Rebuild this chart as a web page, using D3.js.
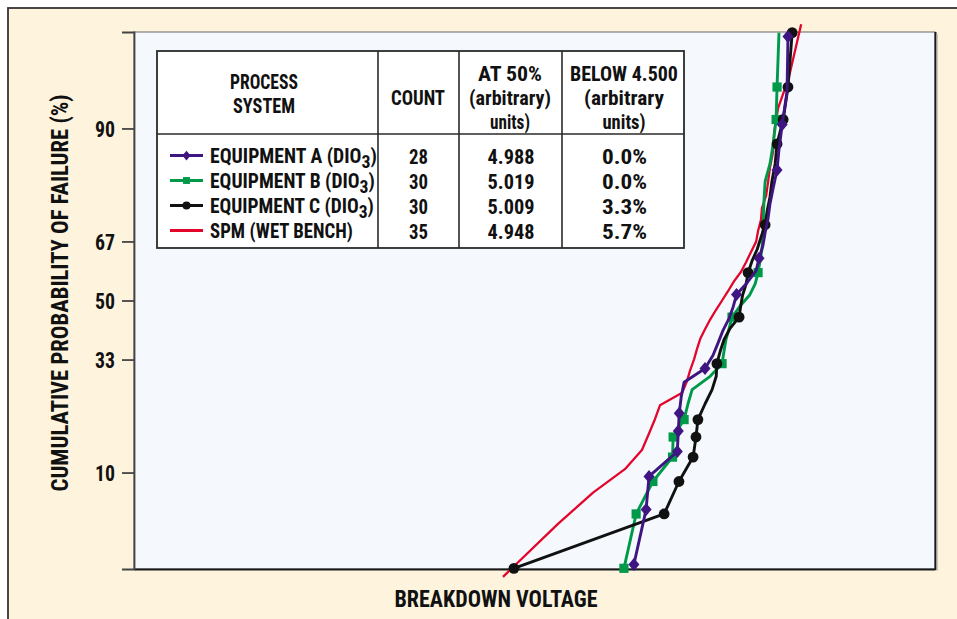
<!DOCTYPE html>
<html>
<head>
<meta charset="utf-8">
<script src="https://cdn.jsdelivr.net/npm/d3@7"></script>
<style>
  html, body { margin: 0; padding: 0; background: #fff; }
  svg text {
    font-family: "Liberation Sans Narrow", "Arial Narrow", "Roboto Condensed", "DejaVu Sans Condensed", "Liberation Sans", sans-serif;
    font-weight: bold;
    fill: #111;
  }
</style>
</head>
<body>
<svg id="chart" width="957" height="619"></svg>
<script>
// Breakdown voltages (arbitrary units), sorted ascending, one array per process system
const equipmentA = [4.674, 4.712, 4.721, 4.809, 4.812, 4.815, 4.821, 4.830, 4.895, 4.920,
  4.936, 4.951, 4.970, 4.983, 4.993, 5.026, 5.054, 5.063, 5.075, 5.082,
  5.091, 5.097, 5.107, 5.119, 5.125, 5.135, 5.150, 5.153];
const equipmentB = [4.643, 4.681, 4.733, 4.794, 4.796, 4.830, 4.842, 4.855, 4.911, 4.948,
  4.954, 4.960, 4.970, 4.979, 5.004, 5.034, 5.051, 5.060, 5.066, 5.072,
  5.075, 5.076, 5.077, 5.079, 5.082, 5.097, 5.107, 5.116, 5.119, 5.125];
const equipmentC = [4.301, 4.768, 4.814, 4.858, 4.867, 4.873, 4.895, 4.917, 4.930, 4.932,
  4.942, 4.954, 4.973, 5.001, 5.006, 5.012, 5.023, 5.029, 5.041, 5.057,
  5.069, 5.082, 5.088, 5.097, 5.103, 5.113, 5.119, 5.138, 5.153, 5.166];
const spmWetBench = [4.267, 4.438, 4.547, 4.646, 4.699, 4.721, 4.740, 4.755, 4.824, 4.839,
  4.849, 4.861, 4.870, 4.880, 4.895, 4.911, 4.929, 4.948, 4.967, 4.985,
  5.007, 5.023, 5.038, 5.054, 5.060, 5.069, 5.072, 5.085, 5.091, 5.097,
  5.107, 5.110, 5.122, 5.156, 5.194];

// Ranks (1-based) that carry a plot symbol
const markedA = [1, 2, 3, 4, 5, 6, 9, 15, 18, 24, 26, 28];
const markedB = [1, 2, 3, 4, 5, 6, 10, 14, 18, 28, 29];
const markedC = [1, 2, 3, 4, 5, 6, 10, 14, 18, 22, 27, 28, 29, 30];
const markedSPM = [];

// Probability axis ticks (%)
const probTicks = [10, 33, 50, 67, 90];

// Summary table
const systemNames = ["EQUIPMENT A", "EQUIPMENT B", "EQUIPMENT C", "SPM (WET BENCH)"];
const systemSuffix = [true, true, true, false];     // "(DIO3)" suffix
const at50 = ["4.988", "5.019", "5.009", "4.948"];
const below4500 = ["0.0%", "0.0%", "3.3%", "5.7%"];

const seriesData = [equipmentA, equipmentB, equipmentC, spmWetBench];
const seriesMarks = [markedA, markedB, markedC, markedSPM];
const seriesColor = ["#3f1681", "#00994a", "#111111", "#e2062c"];
const seriesSymbol = ["diamond", "square", "circle", "none"];
const seriesWidth = [2.9, 2.9, 2.9, 2.3];

// Inverse standard normal CDF (Acklam's rational approximation)
function probit(p) {
  const a = [-39.69683028665376, 220.9460984245205, -275.9285104469687, 138.3577518672690, -30.66479806614716, 2.506628277459239];
  const b = [-54.47609879822406, 161.5858368580409, -155.6989798598866, 66.80131188771972, -13.28068155288572];
  const c = [-0.007784894002430293, -0.3223964580411365, -2.400758277161838, -2.549732539343734, 4.374664141464968, 2.938163982698783];
  const d = [0.007784695709041462, 0.3224671290700398, 2.445134137142996, 3.754408661907416];
  const pl = 0.02425;
  if (p < pl) {
    const q = Math.sqrt(-2 * Math.log(p));
    return (((((c[0]*q+c[1])*q+c[2])*q+c[3])*q+c[4])*q+c[5]) / ((((d[0]*q+d[1])*q+d[2])*q+d[3])*q+1);
  }
  if (p > 1 - pl) {
    const q = Math.sqrt(-2 * Math.log(1 - p));
    return -(((((c[0]*q+c[1])*q+c[2])*q+c[3])*q+c[4])*q+c[5]) / ((((d[0]*q+d[1])*q+d[2])*q+d[3])*q+1);
  }
  const q = p - 0.5, r = q * q;
  return (((((a[0]*r+a[1])*r+a[2])*r+a[3])*r+a[4])*r+a[5])*q / (((((b[0]*r+b[1])*r+b[2])*r+b[3])*r+b[4])*r+1);
}

// Cumulative failure probability of the i-th (1-based) of n sorted values (Benard median rank)
const medianRank = (i, n) => (i - 0.3) / (n + 0.4);

const svg = d3.select("#chart");
const W = 957, H = 619;
const plot = { left: 134, right: 935, top: 32, bottom: 569 };

// x: breakdown voltage, y: normal quantile of cumulative probability
const x = d3.scaleLinear().domain([3.12, 5.61]).range([plot.left, plot.right]);
const z = d3.scaleLinear().domain([-2, 2]).range([plot.bottom, plot.top]);

function fit(sel, w) {
  return sel.attr("textLength", w).attr("lengthAdjust", "spacingAndGlyphs");
}

// Outer panel
svg.append("rect").attr("x", 8).attr("y", 8).attr("width", W + 10).attr("height", H + 10)
  .attr("fill", "#fef4de").attr("stroke", "#333").attr("stroke-width", 1.8);

// Plot area
svg.append("rect")
  .attr("x", plot.left).attr("y", plot.top)
  .attr("width", plot.right - plot.left).attr("height", plot.bottom - plot.top)
  .attr("fill", "#f5f9fd").attr("stroke", "#666").attr("stroke-width", 1);
svg.append("line").attr("x1", plot.right + 0.5).attr("x2", plot.right + 0.5)
  .attr("y1", plot.top).attr("y2", plot.bottom + 1)
  .attr("stroke", "#1a1a1a").attr("stroke-width", 2);
svg.append("line").attr("x1", plot.right + 2.2).attr("x2", plot.right + 2.2)
  .attr("y1", plot.top + 2).attr("y2", plot.bottom + 2)
  .attr("stroke", "#bbb").attr("stroke-width", 1.2);

// Bottom axis (no ticks, voltage in arbitrary units)
svg.append("g").attr("transform", `translate(0,${plot.bottom})`)
  .call(d3.axisBottom(x).tickValues([]).tickSizeOuter(0))
  .call(g => g.select(".domain").attr("stroke", "#1a1a1a").attr("stroke-width", 2));

// Left probability axis
const yAxis = d3.axisLeft(z)
  .tickValues(probTicks.map(p => probit(p / 100)))
  .tickFormat((d, i) => probTicks[i])
  .tickSizeInner(12).tickSizeOuter(12).tickPadding(7);
svg.append("g").attr("transform", `translate(${plot.left},0)`)
  .call(yAxis)
  .call(g => g.select(".domain").attr("stroke", "#444").attr("stroke-width", 1.8))
  .call(g => g.selectAll(".tick line").attr("stroke", "#444").attr("stroke-width", 1.8))
  .call(g => g.selectAll(".tick text")
    .attr("font-size", 22).attr("dy", "0.36em").attr("fill", "#111")
    .style("font-family", null))
  .call(g => g.selectAll(".tick text").each(function () { fit(d3.select(this), 20); }));

// Axis titles
fit(svg.append("text")
  .attr("transform", `translate(68,${293}) rotate(-90)`)
  .attr("text-anchor", "middle").attr("font-size", 24)
  .text("CUMULATIVE PROBABILITY OF FAILURE (%)"), 397);
fit(svg.append("text")
  .attr("x", 496).attr("y", 607).attr("text-anchor", "middle").attr("font-size", 23)
  .text("BREAKDOWN VOLTAGE"), 203);

// Series: polyline through every ranked point, symbols on selected ranks
const line = d3.line().x(d => x(d.v)).y(d => z(d.q));
const diamond = (s) => `M0,${-6.5*s}L${5.5*s},0L0,${6.5*s}L${-5.5*s},0Z`;

function drawSymbol(g, type, color, cx, cy, s) {
  if (type === "diamond") {
    g.append("path").attr("d", diamond(s)).attr("transform", `translate(${cx},${cy})`).attr("fill", color);
  } else if (type === "square") {
    g.append("rect").attr("x", cx - 4.6 * s).attr("y", cy - 4.6 * s)
      .attr("width", 9.2 * s).attr("height", 9.2 * s).attr("fill", color);
  } else if (type === "circle") {
    g.append("circle").attr("cx", cx).attr("cy", cy).attr("r", 5.4 * s).attr("fill", color);
  }
}

const drawOrder = [3, 1, 2, 0];
drawOrder.forEach(k => {
  const vals = seriesData[k];
  const n = vals.length;
  const pts = vals.map((v, i) => ({ v, q: probit(medianRank(i + 1, n)), rank: i + 1 }));
  const g = svg.append("g");
  g.append("path").datum(pts).attr("d", line)
    .attr("fill", "none").attr("stroke", seriesColor[k])
    .attr("stroke-width", seriesWidth[k]).attr("stroke-linejoin", "round");
  pts.filter(p => seriesMarks[k].includes(p.rank))
    .forEach(p => drawSymbol(g, seriesSymbol[k], seriesColor[k], x(p.v), z(p.q), 1));
});

// Summary table
const tbl = { left: 157, top: 51, right: 684, bottom: 248, head: 134 };
const cols = [157, 378, 459, 562, 684];
const tg = svg.append("g");
tg.append("rect").attr("x", tbl.left).attr("y", tbl.top)
  .attr("width", tbl.right - tbl.left).attr("height", tbl.bottom - tbl.top)
  .attr("fill", "#fff").attr("stroke", "#2a2a2a").attr("stroke-width", 1.8);
tg.append("line").attr("x1", tbl.left).attr("x2", tbl.right)
  .attr("y1", tbl.head).attr("y2", tbl.head).attr("stroke", "#2a2a2a").attr("stroke-width", 1.6);
cols.slice(1, 4).forEach(cx => tg.append("line").attr("x1", cx).attr("x2", cx)
  .attr("y1", tbl.top).attr("y2", tbl.bottom).attr("stroke", "#2a2a2a").attr("stroke-width", 1.6));

function cellText(txt, cx, y, w, anchor) {
  const t = tg.append("text").attr("x", cx).attr("y", y).attr("text-anchor", anchor || "middle")
    .attr("font-size", 21).text(txt);
  if (w) fit(t, w);
  return t;
}
const headers = [
  { cx: 264, lines: [["PROCESS", 68, 88.5], ["SYSTEM", 62, 113]] },
  { cx: 418, lines: [["COUNT", 54, 104.5]] },
  { cx: 510, lines: [["AT 50%", 64, 81], ["(arbitrary)", 82, 105], ["units)", 40, 129]] },
  { cx: 624, lines: [["BELOW 4.500", 108, 81], ["(arbitrary", 80, 105], ["units)", 43, 129]] }
];
headers.forEach(h => h.lines.forEach(([s, w, y]) => cellText(s, h.cx, y, w)));

// Row label: one text element, squeezed horizontally to the given width
function rowLabel(k, x0, yb, w) {
  const t = tg.append("text").attr("x", 0).attr("y", 0).attr("font-size", 21);
  if (systemSuffix[k]) {
    t.append("tspan").text(systemNames[k] + " (DIO");
    t.append("tspan").attr("dy", 5).attr("font-size", 19).text("3");
    t.append("tspan").attr("dy", -5).text(")");
  } else {
    t.text(systemNames[k]);
  }
  const natural = t.node().getBBox().width;
  t.attr("transform", `translate(${x0},${yb}) scale(${w / natural},1)`);
  return t;
}

const rowBase = [163, 188, 213, 238];
const labelWidths = [167, 165, 164, 143];
systemNames.forEach((name, k) => {
  const yb = rowBase[k];
  const ym = yb - 7.5;
  // legend swatch
  tg.append("line").attr("x1", 170).attr("x2", 203).attr("y1", ym).attr("y2", ym)
    .attr("stroke", seriesColor[k]).attr("stroke-width", 2.8);
  drawSymbol(tg, seriesSymbol[k], seriesColor[k], 186.5, ym, 0.75);
  rowLabel(k, 210, yb, labelWidths[k]);
  // values
  cellText(String(seriesData[k].length), 418.5, yb + 1, 19);
  cellText(at50[k], 511, yb + 1, 47);
  cellText(below4500[k], 624.5, yb + 1, 45);
});
</script>
</body>
</html>
